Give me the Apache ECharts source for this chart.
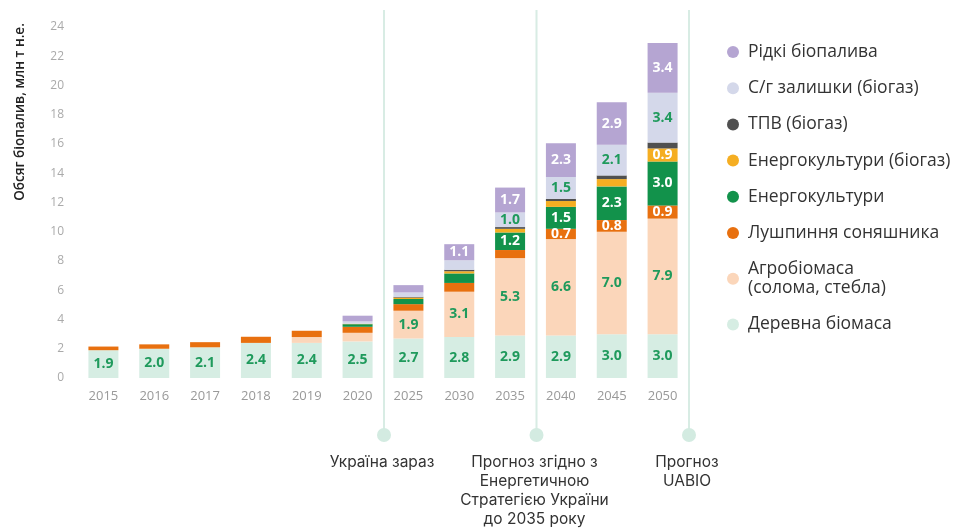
<!DOCTYPE html>
<html>
<head>
<meta charset="utf-8">
<script src="https://cdn.jsdelivr.net/npm/echarts@6/dist/echarts.min.js"></script>
<style>
  html, body { margin: 0; padding: 0; background: #fff; }
  #main { width: 961px; height: 531px; }
</style>
</head>
<body>
<div id="main"></div>
<script>
var chart = echarts.init(document.getElementById('main'));

// categories and tick labels
var years = ['2015', '2016', '2017', '2018', '2019', '2020', '2025', '2030', '2035', '2040', '2045', '2050'];
var yTicks = { min: 0, max: 24, interval: 2 };

// series values, bottom of the stack first
var wood      = [1.9, 2.0, 2.1, 2.4, 2.4, 2.5, 2.7, 2.8, 2.9, 2.9, 3.0, 3.0];
var agro      = [0, 0, 0, 0, 0.4, 0.59, 1.9, 3.1, 5.3, 6.6, 7.0, 7.9];
var husk      = [0.25, 0.3, 0.35, 0.42, 0.43, 0.41, 0.45, 0.6, 0.55, 0.7, 0.8, 0.9];
var crops     = [0, 0, 0, 0, 0, 0.18, 0.35, 0.65, 1.2, 1.5, 2.3, 3.0];
var cropsGas  = [0, 0, 0, 0, 0, 0.03, 0.1, 0.15, 0.25, 0.4, 0.5, 0.9];
var msw       = [0, 0, 0, 0, 0, 0, 0.05, 0.1, 0.12, 0.15, 0.25, 0.4];
var residues  = [0, 0, 0, 0, 0, 0.16, 0.3, 0.65, 1.0, 1.5, 2.1, 3.4];
var liquid    = [0, 0, 0, 0, 0, 0.39, 0.5, 1.1, 1.7, 2.3, 2.9, 3.4];

// annotation groups: last category of each period
var marks = [
  { after: '2020', text: 'Україна зараз' },
  { after: '2035', text: 'Прогноз згідно з\nЕнергетичною\nСтратегією України\nдо 2035 року' },
  { after: '2050', text: 'Прогноз\nUABIO' }
];

var green = '#1f9a5c';

function makeSeries(name, data, color, labelColor) {
  return {
    name: name,
    type: 'bar',
    stack: 'total',
    barWidth: 30,
    data: data,
    itemStyle: { color: color },
    label: {
      show: true,
      position: 'inside',
      color: labelColor,
      fontFamily: 'Open Sans',
      fontWeight: 'bold',
      fontSize: 14,
      formatter: function (p) { return p.value >= 0.7 ? p.value.toFixed(1) : ''; }
    }
  };
}

var series = [
  makeSeries('Деревна біомаса', wood, '#d6ede3', green),
  makeSeries('Агробіомаса\n(солома, стебла)', agro, '#fbd6ba', green),
  makeSeries('Лушпиння соняшника', husk, '#e8700f', '#fff'),
  makeSeries('Енергокультури', crops, '#12924b', '#fff'),
  makeSeries('Енергокультури (біогаз)', cropsGas, '#f5ae22', '#fff'),
  makeSeries('ТПВ (біогаз)', msw, '#505050', '#fff'),
  makeSeries('С/г залишки (біогаз)', residues, '#d4d8ea', green),
  makeSeries('Рідкі біопалива', liquid, '#b5a5d2', '#fff')
];

var option = {
  animation: false,
  grid: { left: 78, right: 273, top: 27, bottom: 153 },
  legend: {
    orient: 'vertical',
    left: 722,
    top: 37.5,
    icon: 'circle',
    itemWidth: 12,
    itemHeight: 12,
    itemGap: 17.2,
    selectedMode: false,
    data: series.map(function (s) { return s.name; }).reverse(),
    textStyle: {
      fontFamily: 'Open Sans',
      fontSize: 17.5,
      lineHeight: 19,
      color: '#333',
      padding: [0, 0, 0, 4]
    }
  },
  xAxis: {
    type: 'category',
    data: years,
    axisLine: { show: false },
    axisTick: { show: false },
    axisLabel: { color: '#999', fontSize: 13, margin: 12, fontFamily: 'Open Sans' }
  },
  yAxis: {
    type: 'value',
    min: yTicks.min,
    max: yTicks.max,
    interval: yTicks.interval,
    splitLine: { show: false },
    axisLine: { show: false },
    axisTick: { show: false },
    axisLabel: { color: '#aaa', fontSize: 12, margin: 14, fontFamily: 'Open Sans' }
  },
  series: series
};

chart.setOption(option);

// vertical period lines with captions
var step = chart.convertToPixel({ xAxisIndex: 0 }, years[1]) - chart.convertToPixel({ xAxisIndex: 0 }, years[0]);
var graphics = [{
  type: 'text',
  x: 20,
  y: 112,
  rotation: Math.PI / 2,
  style: {
    text: 'Обсяг біопалив, млн т н.е.',
    fill: '#222',
    font: '600 13.5px "Open Sans"',
    align: 'center',
    verticalAlign: 'middle'
  }
}];
marks.forEach(function (m) {
  var x = chart.convertToPixel({ xAxisIndex: 0 }, m.after) + step / 2 + 1;
  graphics.push({
    type: 'line',
    z: -1,
    shape: { x1: x, y1: 10, x2: x, y2: 432 },
    style: { stroke: '#d8ece4', lineWidth: 2 }
  });
  graphics.push({
    type: 'circle',
    shape: { cx: x, cy: 435, r: 7 },
    style: { fill: '#d3ebe1' }
  });
  graphics.push({
    type: 'text',
    x: x - 2,
    y: 453,
    style: {
      text: m.text,
      fill: '#333',
      font: '15.5px Inter',
      lineHeight: 19,
      align: 'center',
      verticalAlign: 'top'
    }
  });
});
chart.setOption({ graphic: graphics });
</script>
</body>
</html>
